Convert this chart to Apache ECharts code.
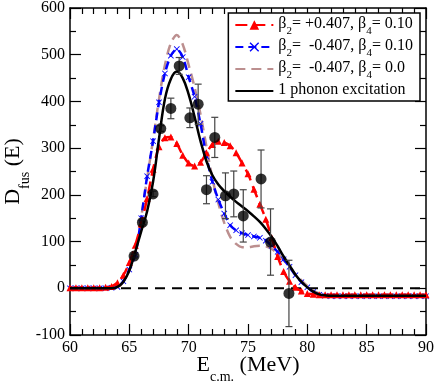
<!DOCTYPE html>
<html><head><meta charset="utf-8">
<script src="https://cdn.jsdelivr.net/npm/echarts@6/dist/echarts.min.js"></script>
<style>html,body{margin:0;padding:0;background:#fff}#c{width:436px;height:382px}</style>
</head><body><div id="c"></div>
<script>
// ---- data ----
const energies = [60,60.5,61,61.5,62,62.5,63,63.5,64,64.5,65,65.5,66,66.5,67,67.5,68,68.5,69,69.5,70,70.5,71,71.5,72,72.5,73,73.5,74,74.5,75,75.5,76,76.5,77,77.5,78,78.5,79,79.5,80,80.5,81,81.5,82,82.5,83,83.5,84,84.5,85,85.5,86,86.5,87,87.5,88,88.5,89,89.5,90];
const redPlus = [1,1,1,1,1,1,2,4,12,28,55,92,138,192,255,303,322,324,310,285,268,262,270,290,308,315,312,305,290,268,245,212,180,148,108,68,36,15,2,-6,-11,-13,-14,-14,-14,-14,-14,-14,-14,-14,-14,-14,-14,-14,-14,-14,-14,-14,-14,-14,-14];
const blueMinus = [0,0,0,0,0,0,0,1,3,15,40,72,150,240,315,398,460,498,512,495,452,410,352,282,228,190,160,135,124,118,114,111,108,102,91,78,62,46,28,13,2,-8,-14,-16,-17,-17,-17,-17,-17,-17,-17,-17,-17,-17,-17,-17,-17,-17,-17,-17,-17];
const pinkMinus = [0,0,0,0,0,0,0,1,2,14,38,75,152,235,318,405,478,525,542,522,478,430,372,303,235,182,140,110,95,88,88,90,91,90,84,74,60,46,30,17,5,-5,-11,-14,-15,-15,-15,-15,-15,-15,-15,-15,-15,-15,-15,-15,-15,-15,-15,-15,-15];
const phonon = [0,0,0,0,0,0,0,0,3,14,38,78,122,165,228,320,405,448,464,450,415,367,315,272,242,222,208,196,185,175,165,154,142,127,110,90,68,49,29,14,2,-7,-13,-15,-16,-16,-16,-16,-16,-16,-16,-16,-16,-16,-16,-16,-16,-16,-16,-16,-16];
const expE = [65.4,66.1,67.0,67.65,68.5,69.2,70.1,70.8,71.5,72.2,73.1,73.8,74.6,76.1,76.9,78.45];
const expD = [69,141,202,342,385,476,365,394,211,323,198,202,155,234,99,-11];
const expErr = [4,5,6,6,22,18,21,43,30,43,49,49,56,62,71,71];
const xTicks = [60,65,70,75,80,85,90];
const yTicks = [-100,0,100,200,300,400,500,600];
const legendNames = ['b2p_b4','b2m_b4','b2m_b40','phonon'];
const legendTexts = {
  b2p_b4: '{t|β}{s|2}{t|= +0.407, β}{s|4}{t|= 0.10}',
  b2m_b4: '{t|β}{s|2}{t|=  -0.407, β}{s|4}{t|= 0.10}',
  b2m_b40: '{t|β}{s|2}{t|=  -0.407, β}{s|4}{t|= 0.0}',
  phonon: '{t|1 phonon excitation}'
};

const pair = (xs, ys) => xs.map((x, i) => [x, ys[i]]);
const FONT = 'Liberation Serif';
const chart = echarts.init(document.getElementById('c'), null, {renderer: 'canvas'});

const baseX = {
  type: 'value', min: xTicks[0], max: xTicks[xTicks.length - 1], interval: 5,
  axisLine: {onZero: false, lineStyle: {color: '#000', width: 1.5}},
  axisTick: {inside: true, length: 11, lineStyle: {color: '#000', width: 1.2}},
  minorTick: {show: true, splitNumber: 5, length: 6, lineStyle: {color: '#000', width: 1.2}},
  splitLine: {show: false}
};
const baseY = {
  type: 'value', min: yTicks[0], max: yTicks[yTicks.length - 1], interval: 100,
  axisLine: {onZero: false, lineStyle: {color: '#000', width: 1.5}},
  axisTick: {inside: true, length: 11, lineStyle: {color: '#000', width: 1.2}},
  minorTick: {show: true, splitNumber: 2, length: 6, lineStyle: {color: '#000', width: 1.2}},
  splitLine: {show: false}
};

const option = {
  animation: false,
  backgroundColor: '#fff',
  grid: {left: 70, right: 10, top: 8, bottom: 47, containLabel: false, outerBoundsMode: 'none'},
  legend: {
    data: [
      {name: 'b2p_b4'},
      {name: 'b2m_b4'},
      {name: 'b2m_b40', itemStyle: {opacity: 0}},
      {name: 'phonon', itemStyle: {opacity: 0}}
    ],
    orient: 'vertical', right: 16, top: 13,
    backgroundColor: '#fff', borderColor: '#000', borderWidth: 1.5, borderRadius: 0,
    padding: [3, 7, 3, 6], itemGap: 1, itemWidth: 38, itemHeight: 12,
    formatter: n => legendTexts[n],
    textStyle: {
      fontFamily: FONT, fontSize: 16, color: '#000',
      rich: {
        t: {fontFamily: FONT, fontSize: 16, color: '#000', lineHeight: 18, verticalAlign: 'top'},
        s: {fontFamily: FONT, fontSize: 11, color: '#000', lineHeight: 11, padding: [10, 0, 0, 0], verticalAlign: 'top'}
      }
    }
  },
  xAxis: [
    Object.assign({}, baseX, {
      position: 'bottom',
      axisLabel: {fontFamily: FONT, fontSize: 16, color: '#000', margin: 5},
      name: '{a|E}{b|c.m.}{a| (MeV)}', nameLocation: 'middle', nameGap: 19, nameMoveOverlap: false,
      nameTextStyle: {fontFamily: FONT, fontSize: 22, color: '#000',
        rich: {
          a: {fontFamily: FONT, fontSize: 22, color: '#000', lineHeight: 24, verticalAlign: 'top'},
          b: {fontFamily: FONT, fontSize: 14, color: '#000', lineHeight: 14, padding: [16, 0, 0, 0], verticalAlign: 'top'}
        }}
    }),
    Object.assign({}, baseX, {position: 'top', axisLabel: {show: false}})
  ],
  yAxis: [
    Object.assign({}, baseY, {
      position: 'left',
      axisLabel: {fontFamily: FONT, fontSize: 16, color: '#000', margin: 5},
      name: '{a|D}{b|fus}{a| (E)}', nameLocation: 'middle', nameGap: 44, nameMoveOverlap: false,
      nameTextStyle: {fontFamily: FONT, fontSize: 22, color: '#000',
        rich: {
          a: {fontFamily: FONT, fontSize: 22, color: '#000', lineHeight: 24, verticalAlign: 'top'},
          b: {fontFamily: FONT, fontSize: 14, color: '#000', lineHeight: 14, padding: [16, 0, 0, 0], verticalAlign: 'top'}
        }}
    }),
    Object.assign({}, baseY, {position: 'right', axisLabel: {show: false}})
  ],
  series: [
    {
      name: 'zero', type: 'line', data: [[xTicks[0], 0], [xTicks[xTicks.length - 1], 0]],
      symbol: 'none', silent: true, z: 1,
      lineStyle: {color: '#000', width: 2, type: [10, 7]}
    },
    {
      name: 'b2m_b40', type: 'line', data: pair(energies, pinkMinus), smooth: 0.3,
      symbol: 'none', z: 2,
      itemStyle: {color: '#bc8f8f'},
      lineStyle: {color: '#bc8f8f', width: 2.5, type: [10, 6]}
    },
    {
      name: 'b2m_b4', type: 'line', data: pair(energies, blueMinus), smooth: 0.3,
      symbol: 'path://M0,1L1,0L5,4L9,0L10,1L6,5L10,9L9,10L5,6L1,10L0,9L4,5Z', symbolSize: 6, z: 3,
      itemStyle: {color: '#0000ff'},
      lineStyle: {color: '#0000ff', width: 2.5, type: [8, 5]}
    },
    {
      name: 'b2p_b4', type: 'line', data: pair(energies, redPlus), smooth: 0.3,
      symbol: 'triangle', symbolSize: 7, z: 4,
      itemStyle: {color: '#ff0000'},
      lineStyle: {color: '#ff0000', width: 2.5, type: [12, 6]}
    },
    {
      name: 'phonon', type: 'line', data: pair(energies, phonon), smooth: 0.4,
      symbol: 'none', z: 5,
      itemStyle: {color: '#000'},
      lineStyle: {color: '#000', width: 2.5}
    },
    {
      name: 'errors', type: 'custom', z: 6,
      data: expE.map((e, i) => [e, expD[i] - expErr[i], expD[i] + expErr[i]]),
      renderItem: (params, api) => {
        const x = api.value(0);
        const lo = api.coord([x, api.value(1)]);
        const hi = api.coord([x, api.value(2)]);
        const w = 3.5;
        const st = {stroke: '#444', lineWidth: 1.2};
        return {type: 'group', children: [
          {type: 'line', shape: {x1: lo[0], y1: lo[1], x2: hi[0], y2: hi[1]}, style: st},
          {type: 'line', shape: {x1: lo[0] - w, y1: lo[1], x2: lo[0] + w, y2: lo[1]}, style: st},
          {type: 'line', shape: {x1: hi[0] - w, y1: hi[1], x2: hi[0] + w, y2: hi[1]}, style: st}
        ]};
      }
    },
    {
      name: 'exp', type: 'scatter', data: pair(expE, expD), z: 7,
      symbol: 'circle', symbolSize: 11,
      itemStyle: {color: '#000'}
    }
  ]
};
chart.setOption(option);
</script>
</body></html>
